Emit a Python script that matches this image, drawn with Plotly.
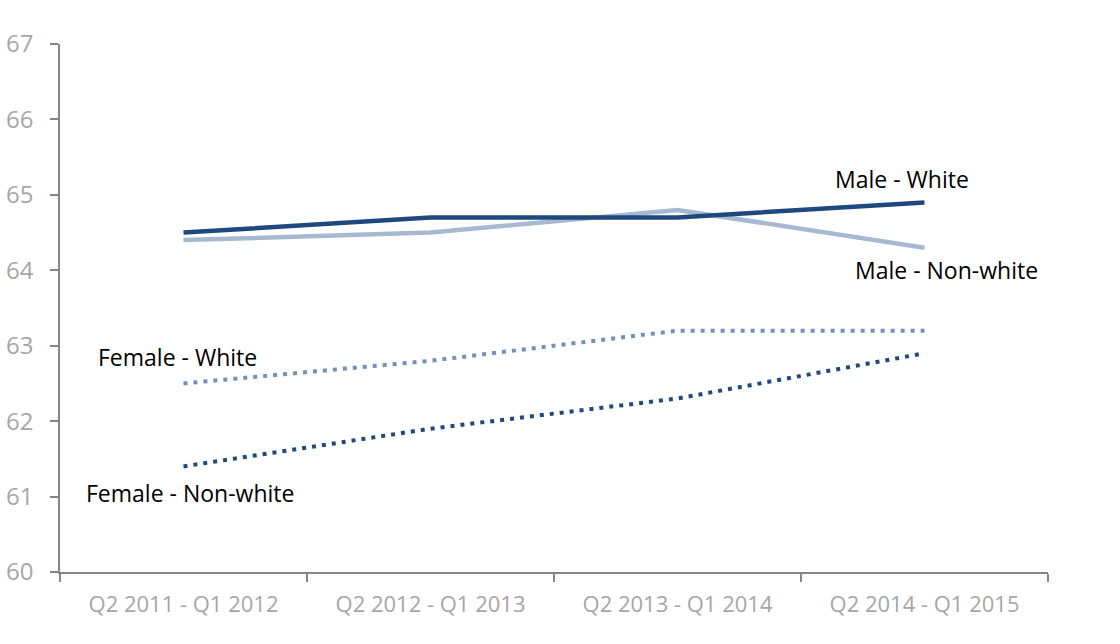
import plotly.graph_objects as go

categories = ["Q2 2011 - Q1 2012", "Q2 2012 - Q1 2013", "Q2 2013 - Q1 2014", "Q2 2014 - Q1 2015"]
male_white = [64.5, 64.7, 64.7, 64.9]
male_nonwhite = [64.4, 64.5, 64.8, 64.3]
female_white = [62.5, 62.8, 63.2, 63.2]
female_nonwhite = [61.4, 61.9, 62.3, 62.9]
y_ticks = [60, 61, 62, 63, 64, 65, 66, 67]

DARK = "#1F497D"
LIGHT = "#A7B9D1"
MID = "#7191BA"

fig = go.Figure()
fig.add_trace(go.Scatter(x=categories, y=male_nonwhite, mode="lines", name="Male - Non-white",
                         line=dict(color=LIGHT, width=4.5)))
fig.add_trace(go.Scatter(x=categories, y=male_white, mode="lines", name="Male - White",
                         line=dict(color=DARK, width=4.5)))
fig.add_trace(go.Scatter(x=categories, y=female_white, mode="lines", name="Female - White",
                         line=dict(color=MID, width=4, dash="4px,6px")))
fig.add_trace(go.Scatter(x=categories, y=female_nonwhite, mode="lines", name="Female - Non-white",
                         line=dict(color=DARK, width=4, dash="4px,6px")))

labels = [
    ("Male - White", 2.909, 65.21),
    ("Male - Non-white", 3.091, 64.0),
    ("Female - White", -0.026, 62.85),
    ("Female - Non-white", 0.026, 61.05),
]
for text, x, y in labels:
    fig.add_annotation(x=x, y=y, xref="x", yref="y", text=text, showarrow=False,
                       font=dict(family="Open Sans", size=23, color="#000000"))

fig.update_layout(
    width=1120, height=644,
    margin=dict(l=60, r=72, t=44, b=72),
    paper_bgcolor="white", plot_bgcolor="white",
    showlegend=False,
    font=dict(family="Open Sans", size=22, color="#A6A6A6"),
)
fig.update_xaxes(
    type="category", range=[-0.5, 3.5], automargin=False,
    showline=True, linecolor="#868686", linewidth=1.5,
    ticks="outside", tickson="boundaries", ticklen=8, tickcolor="#868686", tickwidth=1.5,
    showgrid=False, zeroline=False, ticklabelstandoff=12,
    tickfont=dict(family="Open Sans", size=22, color="#A6A6A6"),
)
fig.update_yaxes(
    range=[60, 67], tickvals=y_ticks, automargin=False,
    showline=True, linecolor="#868686", linewidth=1.5,
    ticks="outside", ticklen=8, tickcolor="#868686", tickwidth=1.5,
    showgrid=False, zeroline=False, ticklabelstandoff=12,
    tickfont=dict(family="Open Sans", size=24, color="#A6A6A6"),
)

fig.write_html("out.html")
